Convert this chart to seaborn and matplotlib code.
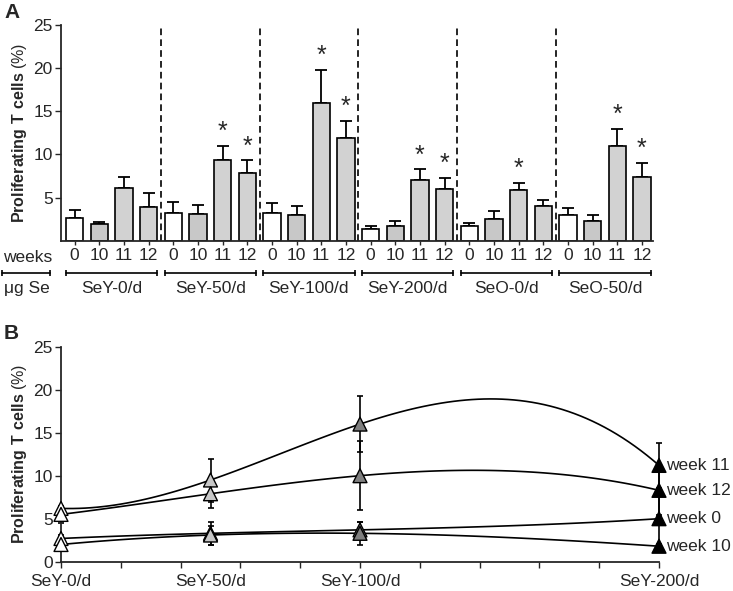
import numpy as np
import pandas as pd
import matplotlib
matplotlib.use("Agg")
import matplotlib.pyplot as plt
import seaborn as sns

# ---- data: panel A (bars) ----
groups = ['SeY-0/d', 'SeY-50/d', 'SeY-100/d', 'SeY-200/d', 'SeO-0/d', 'SeO-50/d']
weeks = ['0', '10', '11', '12']
prolif_mean = [2.6, 1.9, 6.1, 3.9,
               3.2, 3.05, 9.4, 7.9,
               3.2, 3.0, 16.0, 11.9,
               1.35, 1.75, 7.0, 6.0,
               1.65, 2.5, 5.9, 4.0,
               3.0, 2.3, 11.0, 7.4]
prolif_err = [0.95, 0.3, 1.3, 1.6,
              1.3, 1.05, 1.6, 1.4,
              1.2, 1.05, 3.8, 2.0,
              0.35, 0.55, 1.3, 1.3,
              0.45, 0.9, 0.8, 0.7,
              0.75, 0.7, 2.0, 1.6]
significant = [0, 0, 0, 0,
               0, 0, 1, 1,
               0, 0, 1, 1,
               0, 0, 1, 1,
               0, 0, 1, 0,
               0, 0, 1, 1]
week_colors = ['white', '#c8c8c8', '#d2d2d2', '#d2d2d2']

# ---- data: panel B (dose response) ----
dose = [0, 50, 100, 200]
dose_labels = ['SeY-0/d', 'SeY-50/d', 'SeY-100/d', 'SeY-200/d']
dose_colors = ['white', '#c8c8c8', '#7f7f7f', 'black']
wk11 = [6.2, 9.5, 16.0, 11.2]
wk12 = [5.5, 7.9, 10.0, 8.3]
wk0 = [2.7, 3.3, 3.7, 5.0]
wk10 = [2.0, 3.1, 3.3, 1.8]
err11 = [0.3, 2.5, 3.3, 2.6]
err12 = [1.0, 1.6, 4.0, 2.9]
err0 = [0.4, 1.3, 0.9, 3.1]
err10 = [0.3, 1.1, 1.3, 0.3]

sns.set_style("ticks")
plt.rcParams['font.family'] = ['Liberation Sans', 'DejaVu Sans']
plt.rcParams['mathtext.fontset'] = 'custom'
plt.rcParams['mathtext.rm'] = 'Liberation Sans'
plt.rcParams['mathtext.bf'] = 'Liberation Sans:bold'

W, H = 733, 591
fig = plt.figure(figsize=(7.33, 5.91), dpi=100)

ylab = r'$\mathbf{Proliferating\ T\ cells}$ (%)'
fs = 12.5

# ================= Panel A =================
axA = fig.add_axes([61 / W, 1 - 240.7 / H, 592 / W, 215.7 / H])
n = len(groups) * len(weeks)
df = pd.DataFrame({
    'pos': np.arange(n),
    'value': prolif_mean,
})
bar_colors = [week_colors[i % 4] for i in range(n)]
sns.barplot(data=df, x='pos', y='value', hue='pos', palette=bar_colors,
            legend=False, errorbar=None, width=0.7, edgecolor='black',
            linewidth=1.2, ax=axA, zorder=2)
axA.errorbar(df['pos'], df['value'], yerr=[np.zeros(n), prolif_err],
             fmt='none', ecolor='black', elinewidth=1.3, capsize=4,
             capthick=1.3, zorder=1)
for i in range(n):
    if significant[i]:
        axA.text(i, prolif_mean[i] + prolif_err[i] + 0.2, '*',
                 ha='center', va='bottom', fontsize=18)
for g in range(1, len(groups)):
    axA.axvline(4 * g - 0.5, color='black', lw=1.2,
                linestyle=(0, (4, 2.5)), zorder=0)

axA.set_xlim(-0.55, n - 0.55)
axA.set_ylim(0, 25)
axA.set_yticks([5, 10, 15, 20, 25])
axA.set_xticks(range(n))
axA.set_xticklabels([weeks[i % 4] for i in range(n)])
axA.tick_params(axis='x', length=3, width=1, pad=2.5, labelsize=fs)
axA.tick_params(axis='y', length=4, width=1, pad=2, labelsize=fs)
axA.set_xlabel('')
axA.set_ylabel(ylab, fontsize=11.5, labelpad=3)
sns.despine(ax=axA)
for sp in ['left', 'bottom']:
    axA.spines[sp].set_linewidth(1.3)

tr = axA.get_xaxis_transform()
yb = -32.3 / 215.7
yn = -47.5 / 215.7
for g, name in enumerate(groups):
    x0, x1 = 4 * g - 0.35, 4 * g + 3.35
    axA.plot([x0, x1], [yb, yb], color='black', lw=1.2, marker='|',
             markersize=4, mew=1.2, transform=tr, clip_on=False)
    axA.text((x0 + x1) / 2, yn, name, ha='center', va='center',
             fontsize=fs, transform=tr)
fig.text(28 / W, 1 - 257 / H, 'weeks', ha='center', va='center', fontsize=fs)
fig.text(27 / W, 1 - 288 / H, '\u03bcg Se', ha='center', va='center', fontsize=fs)
fig.add_artist(plt.Line2D([2 / W, 50 / W], [1 - 273 / H, 1 - 273 / H],
                          color='black', lw=1.2, marker='|', markersize=4, mew=1.2))
fig.text(4 / W, 1 - 3 / H, 'A', ha='left', va='top', fontsize=15, fontweight='bold')

# ================= Panel B =================
axB = fig.add_axes([61 / W, 1 - 561.7 / H, 598 / W, 215 / H])
series = [(wk11, err11, 'week 11'), (wk12, err12, 'week 12'),
          (wk0, err0, 'week 0'), (wk10, err10, 'week 10')]
for vals, errs, lab in series:
    sns.regplot(x=dose, y=vals, order=3, ci=None, scatter=False, ax=axB,
                line_kws=dict(color='black', lw=1.2, zorder=2))
    axB.errorbar(dose, vals, yerr=errs, fmt='none', ecolor='black',
                 elinewidth=1.2, capsize=2.5, capthick=1.2, zorder=1,
                 clip_on=False)
    sns.scatterplot(x=dose, y=vals, hue=dose, palette=dose_colors,
                    marker='^', s=100, edgecolor='black', linewidth=1,
                    legend=False, ax=axB, zorder=4, clip_on=False)
    axB.text(dose[-1] + 2.5, vals[-1], lab, ha='left', va='center', fontsize=fs)

axB.xaxis.remove_overlapping_locs = False
axB.set_xlim(0, 200)
axB.set_ylim(0, 25)
axB.set_yticks([0, 5, 10, 15, 20, 25])
axB.set_xticks(range(0, 201, 20))
axB.set_xticklabels([])
axB.set_xticks(dose, labels=dose_labels, minor=True)
axB.tick_params(axis='x', which='major', length=4, width=1)
axB.tick_params(axis='x', which='minor', length=0, pad=9, labelsize=fs)
axB.tick_params(axis='y', length=4, width=1, pad=2, labelsize=fs)
axB.set_ylabel(ylab, fontsize=11.5, labelpad=3)
axB.set_xlabel('')
sns.despine(ax=axB)
for sp in ['left', 'bottom']:
    axB.spines[sp].set_linewidth(1.3)
fig.text(4 / W, 1 - 324 / H, 'B', ha='left', va='top', fontsize=15, fontweight='bold')

fig.savefig('out.png', dpi=100)
